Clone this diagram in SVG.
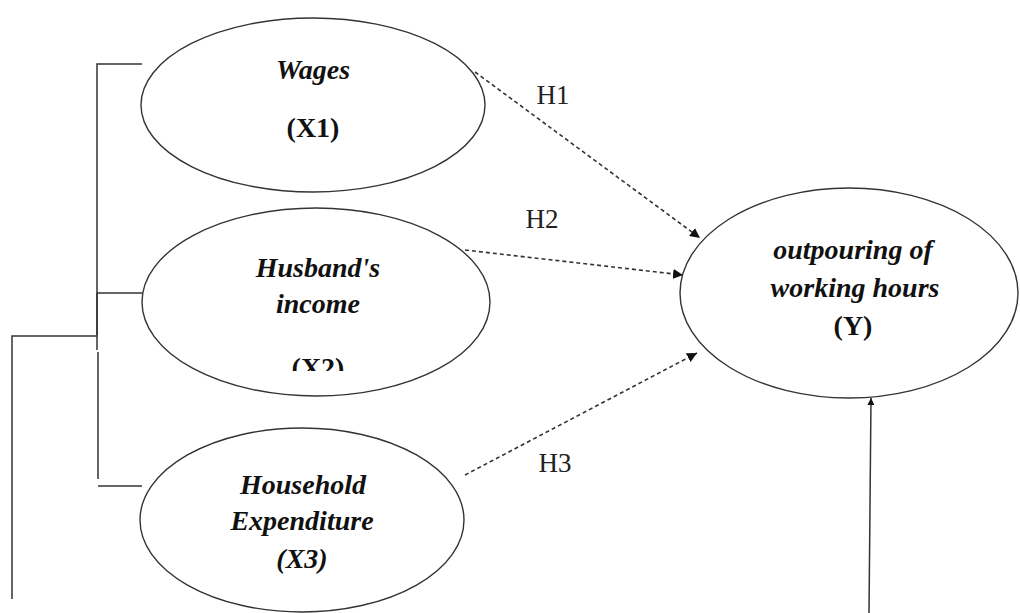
<svg xmlns="http://www.w3.org/2000/svg" width="1020" height="613" viewBox="0 0 1020 613">
<style>
.node ellipse{fill:#fff;stroke:#333;stroke-width:1.4}
.lbl{font-family:"Liberation Serif",serif;font-size:28px;fill:#111;text-anchor:middle}
.bi{font-weight:bold;font-style:italic}
.b{font-weight:bold}
.h{font-family:"Liberation Serif",serif;font-size:27px;fill:#222;text-anchor:middle}
.ln{stroke:#333;stroke-width:1.5;fill:none}
.dash{stroke:#333;stroke-width:1.6;fill:none;stroke-dasharray:4 3}
</style>
<defs>
<marker id="ah" viewBox="0 0 10 10" refX="10" refY="5" markerWidth="10" markerHeight="10" markerUnits="userSpaceOnUse" orient="auto">
<path d="M0,0 L10,5 L0,10 Z" fill="#111"/>
</marker>
<marker id="ah2" viewBox="0 0 10 10" refX="10" refY="5" markerWidth="7" markerHeight="7" markerUnits="userSpaceOnUse" orient="auto">
<path d="M0,0 L10,5 L0,10 Z" fill="#111"/>
</marker>
<clipPath id="clipX2"><rect x="250" y="340" width="140" height="31"/></clipPath>
</defs>
<rect width="1020" height="613" fill="#fff"/>
<g id="connectors">
<path class="ln" d="M142,64 H97 V350"/>
<path class="ln" d="M142,293 H97"/>
<path class="ln" d="M97,293 V335" stroke-width="2.5"/>
<path class="ln" d="M97,336 H12 V599"/>
<path class="ln" d="M98,352 V479"/>
<path class="ln" d="M98,486 H142"/>
<line class="dash" x1="475" y1="72" x2="700" y2="238" marker-end="url(#ah)"/>
<line class="dash" x1="465" y1="250" x2="683" y2="275" marker-end="url(#ah)"/>
<line class="dash" x1="465" y1="475" x2="697" y2="353" marker-end="url(#ah)"/>
<line class="ln" x1="869" y1="613" x2="871" y2="398" marker-end="url(#ah2)"/>
<text class="h" x="553" y="104">H1</text>
<text class="h" x="542" y="228">H2</text>
<text class="h" x="555" y="472">H3</text>
</g>
<g id="node-x1" class="node">
<ellipse cx="313" cy="105" rx="172" ry="87"/>
<text class="lbl bi" x="313" y="79">Wages</text>
<text class="lbl b" x="313" y="137">(X1)</text>
</g>
<g id="node-x2" class="node">
<ellipse cx="316" cy="302" rx="174" ry="94"/>
<text class="lbl bi" x="318" y="277">Husband's</text>
<text class="lbl bi" x="318" y="313">income</text>
<text class="lbl b" x="318" y="377" clip-path="url(#clipX2)">(X2)</text>
</g>
<g id="node-x3" class="node">
<ellipse cx="302" cy="520" rx="162" ry="92"/>
<text class="lbl bi" x="303" y="494">Household</text>
<text class="lbl bi" x="302" y="530">Expenditure</text>
<text class="lbl bi" x="302" y="568">(X3)</text>
</g>
<g id="node-y" class="node">
<ellipse cx="849" cy="293" rx="169" ry="105"/>
<text class="lbl bi" x="853" y="259">outpouring of</text>
<text class="lbl bi" x="855" y="297">working hours</text>
<text class="lbl b" x="853" y="335">(Y)</text>
</g>
</svg>
